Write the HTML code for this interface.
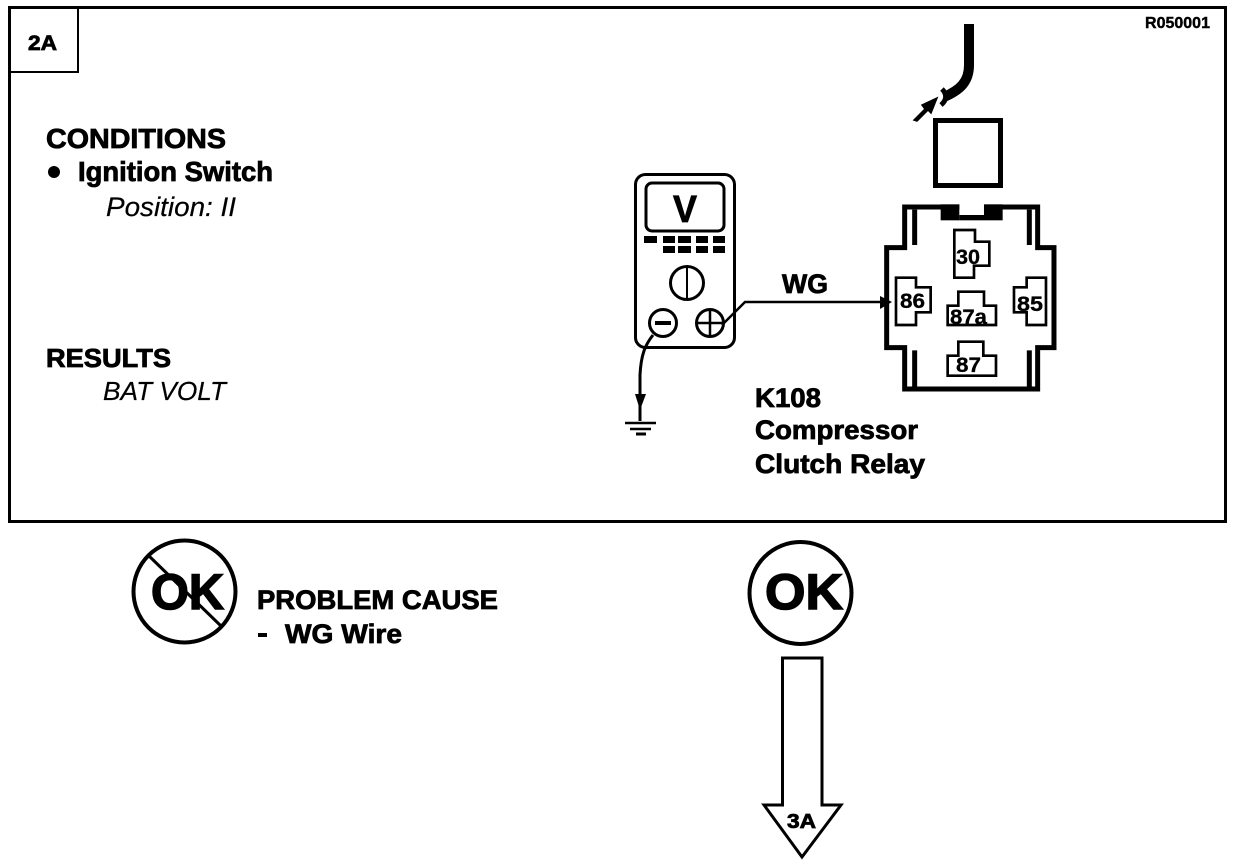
<!DOCTYPE html>
<html><head><meta charset="utf-8"><style>
html,body{margin:0;padding:0;background:#fff;width:1248px;height:866px;overflow:hidden}
svg{display:block}
text{font-family:"Liberation Sans",sans-serif;fill:#000}
.b{font-weight:bold;stroke:#000;stroke-width:.8px}
.i{font-style:italic;stroke:#000;stroke-width:.2px}
</style></head><body>
<svg width="1248" height="866" viewBox="0 0 1248 866" xmlns="http://www.w3.org/2000/svg">
<rect x="9.500" y="7.500" width="1216" height="514" fill="none" stroke="#000" stroke-width="3"/>
<path d="M10 72H78V8" fill="none" stroke="#000" stroke-width="2"/>
<text class="b" x="28" y="50" font-size="21" textLength="29" lengthAdjust="spacingAndGlyphs">2A</text>
<text class="b" x="1145" y="28" font-size="16" textLength="65" lengthAdjust="spacingAndGlyphs" style="stroke-width:.4px">R050001</text>

<text class="b" x="46" y="148" font-size="28" textLength="180" lengthAdjust="spacingAndGlyphs">CONDITIONS</text>
<circle cx="54" cy="172" r="6"/>
<text class="b" x="78" y="181" font-size="28" textLength="195" lengthAdjust="spacingAndGlyphs">Ignition Switch</text>
<text class="i" x="106" y="216" font-size="27" textLength="130" lengthAdjust="spacingAndGlyphs">Position: II</text>
<text class="b" x="46" y="367" font-size="26" textLength="125" lengthAdjust="spacingAndGlyphs">RESULTS</text>
<text class="i" x="103" y="400" font-size="26" textLength="123" lengthAdjust="spacingAndGlyphs">BAT VOLT</text>

<!-- meter -->
<rect x="635.500" y="174.500" width="99" height="173" rx="10" fill="none" stroke="#000" stroke-width="3"/>
<rect x="646" y="183" width="78" height="48" rx="6" fill="none" stroke="#000" stroke-width="3"/>
<text class="b" x="673" y="222" font-size="38" textLength="24" lengthAdjust="spacingAndGlyphs">V</text>
<g fill="#000">
<rect x="644" y="236" width="13" height="7"/><rect x="663" y="236" width="12" height="7"/><rect x="678" y="236" width="13" height="7"/><rect x="696" y="236" width="12" height="7"/><rect x="713" y="236" width="12" height="7"/>
<rect x="663" y="246" width="12" height="7"/><rect x="678" y="246" width="13" height="7"/><rect x="696" y="246" width="12" height="7"/><rect x="713" y="246" width="12" height="7"/>
</g>
<g fill="#fff" stroke="#000" stroke-width="3">
<circle cx="687" cy="283" r="16.500"/>
<path d="M687 267V299" stroke-width="2" fill="none"/>
<circle cx="663" cy="323" r="13.500"/>
<path d="M655 323H671" fill="none" stroke-width="4"/>
<circle cx="710" cy="323" r="13.500"/>
<path d="M697 323H723M710 310V336" fill="none" stroke-width="2.500"/>
</g>
<path d="M722 325L745 302H885" fill="none" stroke="#000" stroke-width="2.500"/>
<path d="M880 296L892 302L880 309Z"/>
<text class="b" x="782" y="293" font-size="27" textLength="46" lengthAdjust="spacingAndGlyphs">WG</text>
<path d="M653 335C645 345 641 355 640 375V421" fill="none" stroke="#000" stroke-width="3"/>
<path d="M635 394H646L640 410Z"/>
<g stroke="#000" stroke-width="2.500"><path d="M625 423H656M630 429H651"/><path d="M636 434H646" stroke-width="3"/></g>

<!-- plug -->
<path d="M969 24V65C969 82 960 90 944 97" fill="none" stroke="#000" stroke-width="10"/>
<path d="M942 89C947 94 947 100 941 105" fill="none" stroke="#000" stroke-width="5"/>
<path d="M914 120L925 109L922 105L937 98L931 113L928 110L917 121Z" stroke="#000" stroke-width="1.500"/>
<rect x="935.500" y="120.500" width="65" height="65" fill="none" stroke="#000" stroke-width="5"/>

<!-- relay -->
<g transform="translate(870,195) scale(.3333)">
<path d="M104 36H503V158H552V458H503V582H104V458H50V158H104Z" fill="none" stroke="#000" stroke-width="15"/>
<path d="M134 44V150M478 44V150M134 466V575M478 466V575" stroke="#000" stroke-width="15" fill="none"/>
<rect x="90" y="28" width="0" height="0"/>
<rect x="268" y="25" width="74" height="38" fill="#fff"/>
<rect x="212" y="28" width="56" height="48" fill="#000"/>
<rect x="342" y="28" width="56" height="48" fill="#000"/>
<rect x="268" y="60" width="74" height="16" fill="#000"/>
<g fill="none" stroke="#000" stroke-width="8">
<path d="M253 105H315V140H358V212H312V248H253Z"/>
<path d="M78 248H138V277H182V352H138V390H78Z"/>
<path d="M528 248H470V277H432V352H470V390H528Z"/>
<path d="M265 290H342V332H378V390H233V332H265Z"/>
<path d="M265 440H340V482H378V542H233V482H265Z"/>
</g>
</g>
<g class="b" font-size="21" style="stroke-width:.3px">
<text x="956" y="264" textLength="24" lengthAdjust="spacingAndGlyphs">30</text>
<text x="900" y="308" textLength="25" lengthAdjust="spacingAndGlyphs">86</text>
<text x="1017" y="311" textLength="26" lengthAdjust="spacingAndGlyphs">85</text>
<text x="950" y="324" textLength="37" lengthAdjust="spacingAndGlyphs">87a</text>
<text x="956" y="372" textLength="25" lengthAdjust="spacingAndGlyphs">87</text>
</g>
<text class="b" x="755" y="407" font-size="27" textLength="66" lengthAdjust="spacingAndGlyphs">K108</text>
<text class="b" x="755" y="439" font-size="27" textLength="163" lengthAdjust="spacingAndGlyphs">Compressor</text>
<text class="b" x="755" y="473" font-size="27" textLength="170" lengthAdjust="spacingAndGlyphs">Clutch Relay</text>

<!-- no OK -->
<circle cx="184.500" cy="591.500" r="51" fill="none" stroke="#000" stroke-width="4"/>
<text class="b" x="151" y="609" font-size="50" textLength="73" lengthAdjust="spacingAndGlyphs" style="stroke-width:1.500px">OK</text>
<path d="M148 555L221 626" stroke="#000" stroke-width="3"/>
<text class="b" x="257" y="609" font-size="27" textLength="241" lengthAdjust="spacingAndGlyphs">PROBLEM CAUSE</text>
<rect x="258" y="633" width="9" height="4"/>
<text class="b" x="285" y="643" font-size="27" textLength="117" lengthAdjust="spacingAndGlyphs">WG Wire</text>

<!-- OK -->
<circle cx="800.500" cy="593" r="51" fill="none" stroke="#000" stroke-width="4"/>
<text class="b" x="765" y="609" font-size="50" textLength="78" lengthAdjust="spacingAndGlyphs" style="stroke-width:1.500px">OK</text>
<path d="M782.500 658H822V805H841L802 857L764 805H782.500Z" fill="#fff" stroke="#000" stroke-width="3" stroke-linejoin="miter"/>
<text class="b" x="787" y="828" font-size="20" textLength="29" lengthAdjust="spacingAndGlyphs">3A</text>
</svg>
</body></html>
